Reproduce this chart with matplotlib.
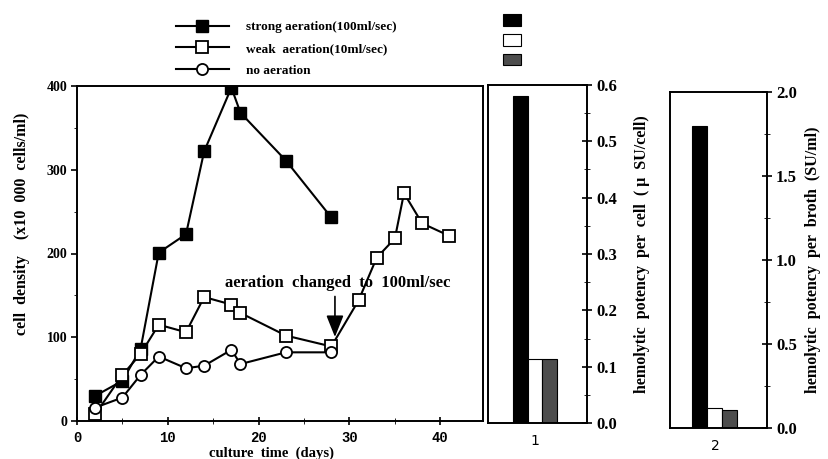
import matplotlib
matplotlib.use("Agg")
from matplotlib import pyplot as plt
from matplotlib.patches import Patch
from matplotlib.lines import Line2D
from matplotlib.ticker import MultipleLocator

# culture time (days) and cell density (x10 000 cells/ml)
days_strong = [2, 5, 7, 9, 12, 14, 17, 18, 23, 28]
strong = [30, 48, 86, 201, 223, 322, 398, 368, 311, 243]
days_weak = [2, 5, 7, 9, 12, 14, 17, 18, 23, 28, 31, 33, 35, 36, 38, 41]
weak = [8, 55, 80, 115, 106, 148, 139, 129, 102, 89, 144, 195, 218, 272, 236, 221]
days_none = [2, 5, 7, 9, 12, 14, 17, 18, 23, 28]
no_aer = [16, 28, 55, 77, 63, 66, 85, 68, 82, 82]

# hemolytic potency: strong / weak / none
per_cell = [0.58, 0.114, 0.114]
per_broth = [1.80, 0.117, 0.107]
bar_colors = ["black", "white", "#4d4d4d"]

SERIF = "Liberation Serif"
MONO = "Liberation Mono"
LW = 1.5
MS = 8

fig = plt.figure(figsize=(8.29, 4.59), dpi=100)

# ---- main line chart ----
ax = fig.add_axes([77 / 829, 1 - 421 / 459, 406 / 829, 335 / 459])
ax.plot(days_strong, strong, "-s", color="black", mfc="black", ms=MS, lw=LW)
ax.plot(days_weak, weak, "-s", color="black", mfc="white", ms=MS, lw=LW, mew=1.3)
ax.plot(days_none, no_aer, "-o", color="black", mfc="white", ms=MS, lw=LW, mew=1.3)
ax.set_xlim(0, 44.7)
ax.set_ylim(0, 400)
ax.set_xticks([0, 10, 20, 30, 40])
ax.set_yticks([0, 100, 200, 300, 400])
ax.xaxis.set_minor_locator(MultipleLocator(5))
ax.yaxis.set_minor_locator(MultipleLocator(50))
ax.tick_params(axis="y", direction="out", length=4, width=1.2, pad=3)
ax.tick_params(axis="y", which="minor", direction="out", length=2.5)
ax.tick_params(axis="x", direction="inout", length=6, width=1.2, pad=4)
ax.tick_params(axis="x", which="minor", direction="inout", length=4)
for lab in ax.get_xticklabels():
    lab.set_fontfamily(MONO)
    lab.set_fontweight("bold")
    lab.set_fontsize(10)
for lab in ax.get_yticklabels():
    lab.set_fontfamily(SERIF)
    lab.set_fontweight("bold")
    lab.set_fontsize(10)
for s in ax.spines.values():
    s.set_linewidth(1.4)
ax.set_xlabel("culture  time  (days)", fontfamily=SERIF, fontweight="bold",
              fontsize=10.5, labelpad=0)
ax.xaxis.set_label_coords(0.48, -0.075)
ax.set_ylabel("cell  density    (x10  000  cells/ml)", fontfamily=SERIF,
              fontweight="bold", fontsize=11.5)
ax.yaxis.set_label_coords(-0.115, 0.59)
ax.annotate("", xy=(28.4, 97), xytext=(28.4, 152),
            arrowprops=dict(arrowstyle="-|>,head_length=0.95,head_width=0.38",
                            color="black", lw=1.2, mutation_scale=14))
ax.text(16.3, 155, "aeration  changed  to  100ml/sec", fontfamily=SERIF,
        fontweight="bold", fontsize=12, va="bottom")

# ---- bar panel 1: per cell ----
ax1 = fig.add_axes([488 / 829, 1 - 423 / 459, 99 / 829, 338 / 459])
ax1.bar([-1, 0, 1], per_cell, width=1, color=bar_colors, edgecolor="black",
        linewidth=0.8)
ax1.set_xlim(-3.24, 3.59)
ax1.set_ylim(0, 0.6)
ax1.set_xticks([0])
ax1.set_xticklabels(["1"], fontsize=10)
ax1.tick_params(axis="x", length=0, pad=8)
ax1.yaxis.tick_right()
ax1.yaxis.set_label_position("right")
ax1.yaxis.set_major_locator(MultipleLocator(0.1))
ax1.yaxis.set_minor_locator(MultipleLocator(0.05))
ax1.tick_params(axis="y", direction="inout", length=7, width=1.2, pad=3)
ax1.tick_params(axis="y", which="minor", direction="inout", length=4)
ax1.set_yticklabels([f"{v:.1f}" for v in ax1.get_yticks()],
                    fontfamily=SERIF, fontweight="bold", fontsize=12)
ax1.set_ylabel("hemolytic  potency  per  cell  ( \u03bc  SU/cell)",
               fontfamily=SERIF, fontweight="bold", fontsize=11.5, labelpad=12)
for s in ax1.spines.values():
    s.set_linewidth(1.4)

# ---- bar panel 2: per broth ----
ax2 = fig.add_axes([670 / 829, 1 - 428 / 459, 97 / 829, 336 / 459])
ax2.bar([-1, 0, 1], per_broth, width=1, color=bar_colors, edgecolor="black",
        linewidth=0.8)
ax2.set_xlim(-3.0, 3.47)
ax2.set_ylim(0, 2.0)
ax2.set_xticks([0])
ax2.set_xticklabels(["2"], fontsize=10)
ax2.tick_params(axis="x", length=0, pad=8)
ax2.yaxis.tick_right()
ax2.yaxis.set_label_position("right")
ax2.yaxis.set_major_locator(MultipleLocator(0.5))
ax2.yaxis.set_minor_locator(MultipleLocator(0.25))
ax2.tick_params(axis="y", direction="inout", length=7, width=1.2, pad=3)
ax2.tick_params(axis="y", which="minor", direction="inout", length=4)
ax2.set_yticklabels([f"{v:.1f}" for v in ax2.get_yticks()],
                    fontfamily=SERIF, fontweight="bold", fontsize=12)
ax2.set_ylabel("hemolytic  potency  per  broth  (SU/ml)",
               fontfamily=SERIF, fontweight="bold", fontsize=11.5, labelpad=6)
for s in ax2.spines.values():
    s.set_linewidth(1.4)

# ---- legends ----
handles = [
    Line2D([], [], color="black", marker="s", mfc="black", ms=MS, lw=LW),
    Line2D([], [], color="black", marker="s", mfc="white", ms=MS, lw=LW, mew=1.3),
    Line2D([], [], color="black", marker="o", mfc="white", ms=MS, lw=LW, mew=1.3),
]
labels = ["strong aeration(100ml/sec)", "weak  aeration(10ml/sec)", "no aeration"]
fig.legend(handles, labels, loc="upper left",
           bbox_to_anchor=(176 / 829, 1 - 21 / 459), frameon=False,
           prop=dict(family=SERIF, weight="bold", size=9.5),
           handlelength=4.0, handletextpad=1.3, labelspacing=0.72,
           borderpad=0, borderaxespad=0)

bar_handles = [Patch(facecolor=c, edgecolor="black", linewidth=0.8)
               for c in bar_colors]
fig.legend(bar_handles, ["", "", ""], loc="upper left",
           bbox_to_anchor=(503 / 829, 1 - 14 / 459), frameon=False,
           fontsize=9, handlelength=1.4, handleheight=1.05,
           labelspacing=0.55, handletextpad=0, borderpad=0, borderaxespad=0)

fig.savefig("out.png", dpi=100)
